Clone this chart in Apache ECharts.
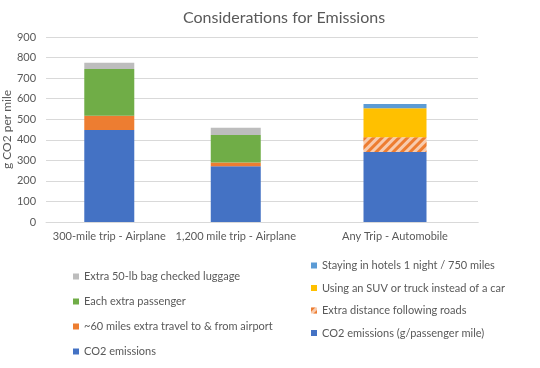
<!DOCTYPE html>
<html><head><meta charset="utf-8">
<script src="https://cdn.jsdelivr.net/npm/echarts@6/dist/echarts.min.js"></script>
<style>html,body{margin:0;padding:0;background:#fff}#c{width:540px;height:368px}</style>
</head><body><div id="c"></div>
<script>
const airCategories = ['300-mile trip - Airplane', '1,200 mile trip - Airplane'];
const carCategories = ['Any Trip - Automobile'];
const airCO2 = [448, 271];
const airTravel = [69, 19];
const airPassenger = [227, 133];
const airBag = [31, 36];
const carCO2 = [341];
const carRoads = [71];
const carSUV = [141];
const carHotels = [21];
const yTicks = {min: 0, max: 900, interval: 100};

const FONT = 'Lato';
const TXT = '#595959';
const chart = echarts.init(document.getElementById('c'));
const yBase = {type:'value', min:yTicks.min, max:yTicks.max, interval:yTicks.interval,
  axisLine:{show:false}, axisTick:{show:false}};
chart.setOption({
  animation:false,
  title:{text:'Considerations for Emissions', left:178, top:5,
    textStyle:{fontFamily:FONT, fontSize:16, fontWeight:'normal', color:TXT}},
  grid:[
    {left:45, top:37, width:254, height:185},
    {left:312, top:37, width:166, height:185},
    {left:285, top:37, width:193, height:185}
  ],
  xAxis:[
    {type:'category', gridIndex:0, data:airCategories, axisTick:{show:false},
     axisLine:{lineStyle:{color:'#D9D9D9'}},
     axisLabel:{interval:0, color:TXT, fontFamily:FONT, fontSize:11, margin:9}},
    {type:'category', gridIndex:1, data:carCategories, axisTick:{show:false},
     axisLine:{lineStyle:{color:'#D9D9D9'}},
     axisLabel:{interval:0, color:TXT, fontFamily:FONT, fontSize:11, margin:9}},
    {type:'category', gridIndex:2, data:[''], axisTick:{show:false},
     axisLine:{lineStyle:{color:'#D9D9D9'}}, axisLabel:{show:false}}
  ],
  yAxis:[
    Object.assign({gridIndex:0, name:'g CO2 per mile', nameLocation:'middle', nameGap:27,
      nameTextStyle:{color:TXT, fontFamily:FONT, fontSize:12},
      splitLine:{lineStyle:{color:'#D9D9D9'}},
      axisLabel:{color:TXT, fontFamily:FONT, fontSize:11, margin:10}}, yBase),
    Object.assign({gridIndex:1, splitLine:{show:false}, axisLabel:{show:false}}, yBase),
    Object.assign({gridIndex:2, splitLine:{lineStyle:{color:'#D9D9D9'}}, axisLabel:{show:false}}, yBase)
  ],
  legend:[
    {orient:'vertical', left:68, top:266, icon:'rect', itemWidth:6, itemHeight:6, itemGap:14,
     textStyle:{color:TXT, fontFamily:FONT, fontSize:11},
     data:['Extra 50-lb bag checked luggage','Each extra passenger','~60 miles extra travel to & from airport','CO2 emissions']},
    {orient:'vertical', left:306, top:255, icon:'rect', itemWidth:6, itemHeight:6, itemGap:11.5,
     textStyle:{color:TXT, fontFamily:FONT, fontSize:11},
     data:['Staying in hotels 1 night / 750 miles','Using an SUV or truck instead of a car','Extra distance following roads','CO2 emissions (g/passenger mile)']}
  ],
  series:[
    {name:'CO2 emissions', type:'bar', stack:'a', xAxisIndex:0, yAxisIndex:0, barWidth:50, data:airCO2, itemStyle:{color:'#4472C4'}},
    {name:'~60 miles extra travel to & from airport', type:'bar', stack:'a', xAxisIndex:0, yAxisIndex:0, barWidth:50, data:airTravel, itemStyle:{color:'#ED7D31'}},
    {name:'Each extra passenger', type:'bar', stack:'a', xAxisIndex:0, yAxisIndex:0, barWidth:50, data:airPassenger, itemStyle:{color:'#70AD47'}},
    {name:'Extra 50-lb bag checked luggage', type:'bar', stack:'a', xAxisIndex:0, yAxisIndex:0, barWidth:50, data:airBag, itemStyle:{color:'#BDBDBD'}},
    {name:'CO2 emissions (g/passenger mile)', type:'bar', stack:'b', xAxisIndex:1, yAxisIndex:1, barWidth:63, data:carCO2, itemStyle:{color:'#4472C4'}},
    {name:'Extra distance following roads', type:'bar', stack:'b', xAxisIndex:1, yAxisIndex:1, barWidth:63, data:carRoads,
     itemStyle:{color:'#F8CBAD', decal:{symbol:'rect', color:'#ED7D31', dashArrayX:[1,0], dashArrayY:[3,3], rotation:-Math.PI/4, symbolSize:1}}},
    {name:'Using an SUV or truck instead of a car', type:'bar', stack:'b', xAxisIndex:1, yAxisIndex:1, barWidth:63, data:carSUV, itemStyle:{color:'#FFC000'}},
    {name:'Staying in hotels 1 night / 750 miles', type:'bar', stack:'b', xAxisIndex:1, yAxisIndex:1, barWidth:63, data:carHotels, itemStyle:{color:'#5B9BD5'}}
  ]
});
</script></body></html>
